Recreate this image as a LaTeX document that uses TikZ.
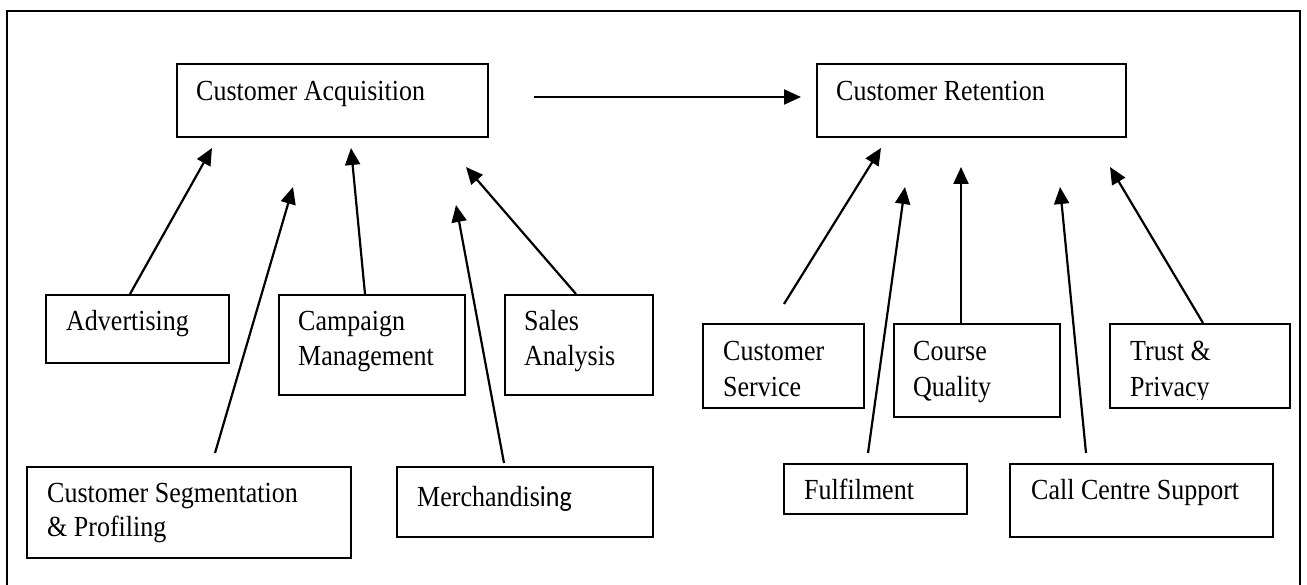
\documentclass[tikz,border=0pt]{standalone}
\usepackage{graphicx}
\usepackage{fontspec}
\setmainfont{Liberation Serif}
\newfontfamily\carlito{Carlito}
\newcommand\tx[1]{\scalebox{1}[1.12]{#1}}
\usetikzlibrary{arrows.meta}
\begin{document}
\begin{tikzpicture}[x=1pt,y=-1pt,
  box/.style={draw, line width=1.9pt, inner sep=0pt, anchor=north west},
  lbl/.style={inner sep=0pt, anchor=base west, font=\fontsize{26}{30}\selectfont},
  conn/.style={line width=2.2pt, -{Triangle[length=17pt,width=15pt]}}]
\useasboundingbox (0,0) rectangle (1307,585);
\begin{scope}
\clip (0,0) rectangle (1307,585);
\draw[line width=2pt] (7,620) -- (7,11) -- (1300,11) -- (1300,620);
\end{scope}
% top boxes
\node[box, minimum width=311pt, minimum height=73pt] (ca) at (176,63) {};
\node[lbl] (ca-t) at (196,101) {\tx{Customer Acquisition}};
\node[box, minimum width=309pt, minimum height=73pt] (cr) at (816,63) {};
\node[lbl] (cr-t) at (836,101) {\tx{Customer Retention}};
% left group
\node[box, minimum width=183pt, minimum height=68pt] (adv) at (45,294) {};
\node[lbl] (adv-t) at (66,331) {\tx{Advertising}};
\node[box, minimum width=186pt, minimum height=100pt] (camp) at (278,294) {};
\node[lbl] (camp-t1) at (298,331) {\tx{Campaign}};
\node[lbl] (camp-t2) at (298,366) {\tx{Management}};
\node[box, minimum width=148pt, minimum height=100pt] (sales) at (504,294) {};
\node[lbl] (sales-t1) at (524,331) {\tx{Sales}};
\node[lbl] (sales-t2) at (524,366) {\tx{Analysis}};
\node[box, minimum width=324pt, minimum height=91pt] (seg) at (26,466) {};
\node[lbl] (seg-t1) at (47,502) {\tx{Customer Segmentation}};
\node[lbl] (seg-t2) at (47,536) {\tx{\& Profiling}};
\node[box, minimum width=256pt, minimum height=70pt] (merch) at (396,466) {};
\node[lbl] (merch-t) at (417,506) {\tx{Merchandis{\carlito ing}}};
% right group
\node[box, minimum width=161pt, minimum height=84pt] (cs) at (702,323) {};
\node[lbl] (cs-t1) at (723,360) {\tx{Customer}};
\node[lbl] (cs-t2) at (723,396) {\tx{Service}};
\node[box, minimum width=166pt, minimum height=93pt] (cq) at (893,323) {};
\node[lbl] (cq-t1) at (913,360) {\tx{Course}};
\node[lbl] (cq-t2) at (913,396) {\tx{Quality}};
\node[box, minimum width=180pt, minimum height=84pt] (trust) at (1109,323) {};
\node[lbl] (trust-t1) at (1130,360) {\tx{Trust \&}};
\begin{scope}
\clip (1109,323) rectangle (1289,399);
\node[lbl] (trust-t2) at (1130,396) {\tx{Privacy}};
\end{scope}
\node[box, minimum width=183pt, minimum height=50pt] (ful) at (783,463) {};
\node[lbl] (ful-t) at (804,499) {\tx{Fulfilment}};
\node[box, minimum width=263pt, minimum height=73pt] (call) at (1009,463) {};
\node[lbl] (call-t) at (1031,499) {\tx{Call Centre Support}};
% connector end points
\coordinate (main-s) at (534,97);  \coordinate (main-e) at (801,97);
\coordinate (adv-s) at (130,294);  \coordinate (adv-e) at (212,148);
\coordinate (seg-s) at (215,453);  \coordinate (seg-e) at (293,187);
\coordinate (camp-s) at (365,294); \coordinate (camp-e) at (351,148);
\coordinate (merch-s) at (504,463);\coordinate (merch-e) at (456,205);
\coordinate (sales-s) at (576,294);\coordinate (sales-e) at (466,167);
\coordinate (cs-s) at (784,304);   \coordinate (cs-e) at (881,148);
\coordinate (ful-s) at (868,453);  \coordinate (ful-e) at (905,187);
\coordinate (cq-s) at (961,323);   \coordinate (cq-e) at (961,167);
\coordinate (call-s) at (1086,453);\coordinate (call-e) at (1060,187);
\coordinate (trust-s) at (1203,323);\coordinate (trust-e) at (1110,167);
\foreach \n in {main,adv,seg,camp,merch,sales,cs,ful,cq,call,trust}
  \draw[conn] (\n-s) -- (\n-e);
\end{tikzpicture}
\end{document}
